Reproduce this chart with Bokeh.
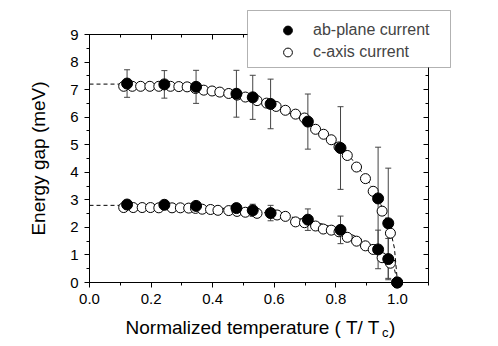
from bokeh.plotting import figure
from bokeh.models import (Range1d, LinearAxis, SingleIntervalTicker, NumeralTickFormatter,
                          CustomJSTickFormatter, Whisker, TeeHead, ColumnDataSource, Legend,
                          LegendItem, Label, BoxAnnotation)
from bokeh.embed import file_html
from bokeh.resources import INLINE

# ---- data ----
# ab-plane current (filled circles), upper and lower gap
ab_t = [0.122, 0.243, 0.346, 0.477, 0.530, 0.588, 0.709, 0.815, 0.937, 0.970, 0.999]
ab_hi = [7.22, 7.19, 7.10, 6.85, 6.72, 6.48, 5.84, 4.88, 3.05, 2.15, 0.0]
ab_hi_err = [0.50, 0.50, 0.60, 0.85, 0.80, 0.90, 1.00, 1.50, 1.86, 2.00, 0.0]
ab_lo = [2.83, 2.82, 2.78, 2.70, 2.62, 2.52, 2.28, 1.91, 1.20, 0.85, 0.0]
ab_lo_err = [0.10, 0.10, 0.10, 0.12, 0.22, 0.28, 0.39, 0.50, 0.70, 0.75, 0.0]

# c-axis current (open circles)
c_hi_t = [0.111, 0.139, 0.166, 0.196, 0.225, 0.263, 0.290, 0.317, 0.344, 0.371, 0.398,
          0.423, 0.452, 0.479, 0.506, 0.544, 0.575, 0.606, 0.636, 0.669, 0.698, 0.734,
          0.760, 0.785, 0.810, 0.837, 0.867, 0.896, 0.921, 0.950, 0.977]
c_hi = [7.12, 7.12, 7.12, 7.12, 7.12, 7.12, 7.11, 7.10, 7.04, 6.98, 6.95,
        6.91, 6.86, 6.80, 6.73, 6.60, 6.51, 6.39, 6.25, 6.11, 5.97, 5.56,
        5.38, 5.18, 4.92, 4.61, 4.19, 3.77, 3.31, 2.59, 1.79]
c_lo_t = [0.111, 0.142, 0.171, 0.198, 0.225, 0.268, 0.295, 0.322, 0.344, 0.366, 0.393,
          0.417, 0.452, 0.479, 0.506, 0.544, 0.609, 0.636, 0.669, 0.698, 0.734, 0.759,
          0.785, 0.810, 0.837, 0.867, 0.896, 0.921, 0.950, 0.977]
c_lo = [2.72, 2.72, 2.72, 2.72, 2.71, 2.71, 2.71, 2.70, 2.69, 2.66, 2.65,
        2.62, 2.61, 2.58, 2.55, 2.51, 2.45, 2.40, 2.20, 2.17, 2.05, 1.94,
        1.90, 1.84, 1.64, 1.50, 1.33, 1.20, 0.90, 0.70]

# dashed fit curves
fit_t = [0.0, 0.1, 0.2, 0.3, 0.4, 0.5, 0.6, 0.7, 0.75, 0.8, 0.85, 0.9, 0.93, 0.95,
         0.97, 0.98, 0.99, 1.0]
fit_hi = [7.2, 7.2, 7.2, 7.13, 7.0, 6.77, 6.41, 5.86, 5.5, 5.05, 4.5, 3.77, 3.2, 2.73,
          2.14, 1.75, 1.25, 0.0]
fit_lo = [2.8, 2.8, 2.8, 2.77, 2.72, 2.63, 2.49, 2.28, 2.14, 1.96, 1.75, 1.47, 1.24, 1.06,
          0.83, 0.68, 0.49, 0.0]

x_lim = (0.0, 1.1)
y_lim = (0.0, 9.0)
legend_labels = ["ab-plane current", "c-axis current"]
x_title = "Normalized temperature ( T/ T"
x_title_sub = "c"
y_title = "Energy gap (meV)"

FONT = "Liberation Sans"

# ---- layout: the frame covers the whole canvas, axes are fixed at data positions ----
W, H = 498, 346
AX_L, AX_B = 89, 282           # pixel position of the data origin
PX_X = 308.0                   # pixels per x unit
PX_Y = 248.0 / 9.0             # pixels per y unit
x_range = Range1d(-AX_L / PX_X, (W - AX_L) / PX_X)
y_range = Range1d(-(H - AX_B) / PX_Y, AX_B / PX_Y)

p = figure(width=W, height=H, output_backend="svg", toolbar_location=None,
           x_range=x_range, y_range=y_range, min_border=0)
p.xgrid.visible = False
p.ygrid.visible = False
p.outline_line_color = None
p.background_fill_color = "white"
p.border_fill_color = "white"

xt = SingleIntervalTicker(interval=0.2, num_minor_ticks=2)
yt = SingleIntervalTicker(interval=1, num_minor_ticks=2)

xa = p.xaxis[0]
xa.ticker = xt
xa.formatter = NumeralTickFormatter(format="0.0")
xa.fixed_location = y_lim[0]
xa.bounds = x_lim
ya = p.yaxis[0]
ya.ticker = yt
ya.fixed_location = x_lim[0]
ya.bounds = y_lim
for ax in (xa, ya):
    ax.major_tick_in = 0
    ax.major_tick_out = 5
    ax.minor_tick_in = 0
    ax.minor_tick_out = 3
    ax.axis_line_color = "black"
    ax.major_tick_line_color = "black"
    ax.minor_tick_line_color = "black"
    ax.major_label_text_font = FONT
    ax.major_label_text_font_size = "15px"
    ax.major_label_text_color = "black"
    ax.major_label_standoff = 6
ya.axis_label = y_title
ya.axis_label_text_font = FONT
ya.axis_label_text_font_size = "19px"
ya.axis_label_text_font_style = "normal"
ya.axis_label_text_color = "black"
ya.axis_label_standoff = 18

blank = CustomJSTickFormatter(code="return ''")
top_ax = LinearAxis(ticker=xt, fixed_location=y_lim[1], bounds=x_lim,
                    major_tick_in=5, major_tick_out=0, minor_tick_in=3, minor_tick_out=0,
                    formatter=blank, axis_line_color="black")
right_ax = LinearAxis(ticker=yt, fixed_location=x_lim[1], bounds=y_lim,
                      major_tick_in=5, major_tick_out=0, minor_tick_in=3, minor_tick_out=0,
                      formatter=blank, axis_line_color="black")
p.add_layout(top_ax, "above")
p.add_layout(right_ax, "right")

# error bars
for t, v, e in ((ab_t, ab_hi, ab_hi_err), (ab_t, ab_lo, ab_lo_err)):
    src = ColumnDataSource(dict(x=t, upper=[a + b for a, b in zip(v, e)],
                                lower=[a - b for a, b in zip(v, e)]))
    w = Whisker(source=src, base="x", upper="upper", lower="lower",
                line_color="#444444", line_width=1, level="underlay",
                upper_head=TeeHead(size=6, line_color="#444444", line_width=1),
                lower_head=TeeHead(size=6, line_color="#444444", line_width=1))
    p.add_layout(w)

# fits
p.line(fit_t, fit_hi, line_dash="4 3", line_color="black", line_width=1)
p.line(fit_t, fit_lo, line_dash="4 3", line_color="black", line_width=1)

# c-axis open circles
r_c = p.scatter(c_hi_t, c_hi, marker="circle", size=10, fill_color="white",
                line_color="black", line_width=1)
p.scatter(c_lo_t, c_lo, marker="circle", size=10, fill_color="white",
          line_color="black", line_width=1)

# ab-plane filled circles
r_ab = p.scatter(ab_t, ab_hi, marker="circle", size=11, fill_color="black",
                 line_color="black")
p.scatter(ab_t, ab_lo, marker="circle", size=11, fill_color="black", line_color="black")

# legend box + legend
def px_x(sx):
    return (sx - AX_L) / PX_X


def px_y(sy):
    return (AX_B - sy) / PX_Y


p.add_layout(BoxAnnotation(left=px_x(247), right=px_x(450), top=px_y(10), bottom=px_y(67),
                           fill_color="white", fill_alpha=1, line_color="black",
                           line_width=1, level="annotation"))
legend = Legend(items=[LegendItem(label=legend_labels[0], renderers=[r_ab]),
                       LegendItem(label=legend_labels[1], renderers=[r_c])],
                location=(270, H - 63), label_text_font=FONT, label_text_font_size="16px",
                label_height=18, glyph_height=22, glyph_width=35, spacing=-2, padding=0,
                label_standoff=8, border_line_color=None, background_fill_alpha=0,
                margin=0)
p.add_layout(legend, "center")

# x axis title with subscript
p.add_layout(Label(x=px_x(379.5), y=px_y(327), text=x_title, text_align="right",
                   text_baseline="alphabetic", text_font=FONT, text_font_size="19px",
                   text_color="black"))
p.add_layout(Label(x=px_x(381.5), y=px_y(332), text=x_title_sub, text_align="left",
                   text_baseline="alphabetic", text_font=FONT, text_font_size="13px",
                   text_color="black"))
p.add_layout(Label(x=px_x(388.5), y=px_y(327), text=")", text_align="left",
                   text_baseline="alphabetic", text_font=FONT, text_font_size="19px",
                   text_color="black"))

open("out.html", "w").write(file_html(p, INLINE))
